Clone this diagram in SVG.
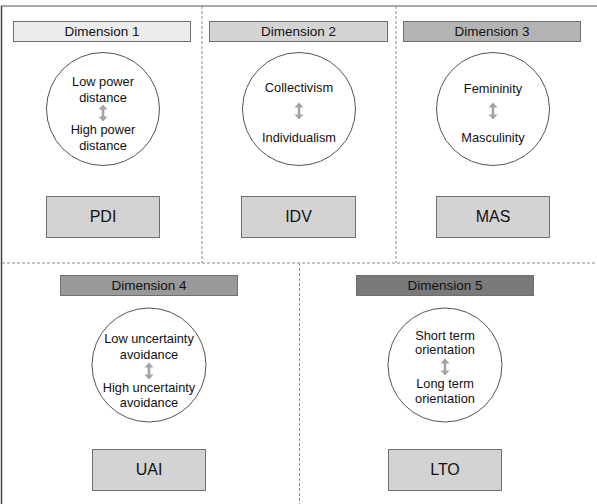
<svg xmlns="http://www.w3.org/2000/svg" width="597" height="504" viewBox="0 0 597 504">
<defs>
<style>
text{font-family:"Liberation Sans",Arial,sans-serif;fill:#111;text-anchor:middle}
.bar{stroke:#6f6f6f;stroke-width:1}
.lbl{font-size:13.5px}
.ctx{font-size:12.8px}
.box{fill:#d3d3d3;stroke:#6f6f6f;stroke-width:1}
.btx{font-size:16px}
.circ{fill:#fff;stroke:#555;stroke-width:1}
.div{stroke:#8a8a8a;stroke-width:1;stroke-dasharray:3 2;fill:none}
.arr{fill:#a3a3a3}
</style>
<path id="dbl" d="M0,0 L4.5,5 L1.3,5 L1.3,12 L4.5,12 L0,17 L-4.5,12 L-1.3,12 L-1.3,5 L-4.5,5 Z"/>
</defs>
<rect width="597" height="504" fill="#fff"/>
<g id="frame">
<line x1="1.5" y1="6" x2="1.5" y2="504" stroke="#444" stroke-width="1.5"/>
<line x1="1" y1="6" x2="597" y2="6" stroke="#555" stroke-width="1"/>
</g>
<g id="dividers">
<line class="div" x1="202" y1="6" x2="202" y2="263"/>
<line class="div" x1="396" y1="6" x2="396" y2="263"/>
<line class="div" x1="2" y1="263" x2="597" y2="263"/>
<line class="div" x1="299.5" y1="263" x2="299.5" y2="504"/>
</g>
<g id="dim1">
<rect class="bar" x="13.5" y="21.5" width="177" height="20" fill="#ececec"/>
<text class="lbl" x="102" y="36">Dimension 1</text>
<circle class="circ" cx="103" cy="109" r="56.5"/>
<text class="ctx" x="103" y="86">Low power</text>
<text class="ctx" x="103" y="102">distance</text>
<text class="ctx" x="103" y="134">High power</text>
<text class="ctx" x="103" y="150">distance</text>
<rect class="box" x="46.5" y="196.5" width="113" height="41"/>
<text class="btx" x="103" y="222">PDI</text>
</g>
<g id="dim2">
<rect class="bar" x="209.5" y="21.5" width="178" height="20" fill="#d4d4d4"/>
<text class="lbl" x="298.5" y="36">Dimension 2</text>
<circle class="circ" cx="299" cy="109" r="56.5"/>
<text class="ctx" x="299" y="92">Collectivism</text>
<text class="ctx" x="299" y="142">Individualism</text>
<rect class="box" x="241.5" y="196.5" width="114" height="41"/>
<text class="btx" x="298.5" y="222">IDV</text>
</g>
<g id="dim3">
<rect class="bar" x="403.5" y="21.5" width="177" height="20" fill="#b4b4b4"/>
<text class="lbl" x="492" y="36">Dimension 3</text>
<circle class="circ" cx="493" cy="109" r="56.5"/>
<text class="ctx" x="493" y="93">Femininity</text>
<text class="ctx" x="493" y="142">Masculinity</text>
<rect class="box" x="436.5" y="196.5" width="113" height="41"/>
<text class="btx" x="493" y="222">MAS</text>
</g>
<g id="dim4">
<rect class="bar" x="60.5" y="275.5" width="177" height="20" fill="#999999"/>
<text class="lbl" x="149" y="290">Dimension 4</text>
<circle class="circ" cx="149" cy="365" r="57"/>
<text class="ctx" x="149" y="343">Low uncertainty</text>
<text class="ctx" x="149" y="359">avoidance</text>
<text class="ctx" x="149" y="392">High uncertainty</text>
<text class="ctx" x="149" y="407">avoidance</text>
<rect class="box" x="92.5" y="449.5" width="113" height="41"/>
<text class="btx" x="149" y="475">UAI</text>
</g>
<g id="dim5">
<rect class="bar" x="356.5" y="275.5" width="177" height="20" fill="#7a7a7a"/>
<text class="lbl" x="445" y="290">Dimension 5</text>
<circle class="circ" cx="445" cy="365" r="57"/>
<text class="ctx" x="445" y="340">Short term</text>
<text class="ctx" x="445" y="354">orientation</text>
<text class="ctx" x="445" y="388">Long term</text>
<text class="ctx" x="445" y="403">orientation</text>
<rect class="box" x="388.5" y="449.5" width="113" height="41"/>
<text class="btx" x="445" y="475">LTO</text>
</g>
<g id="connectors" class="arr">
<use href="#dbl" x="103" y="104.5"/>
<use href="#dbl" x="299" y="102.5"/>
<use href="#dbl" x="493" y="102.5"/>
<use href="#dbl" x="149" y="362.5"/>
<use href="#dbl" x="445" y="358.5"/>
</g>
</svg>
